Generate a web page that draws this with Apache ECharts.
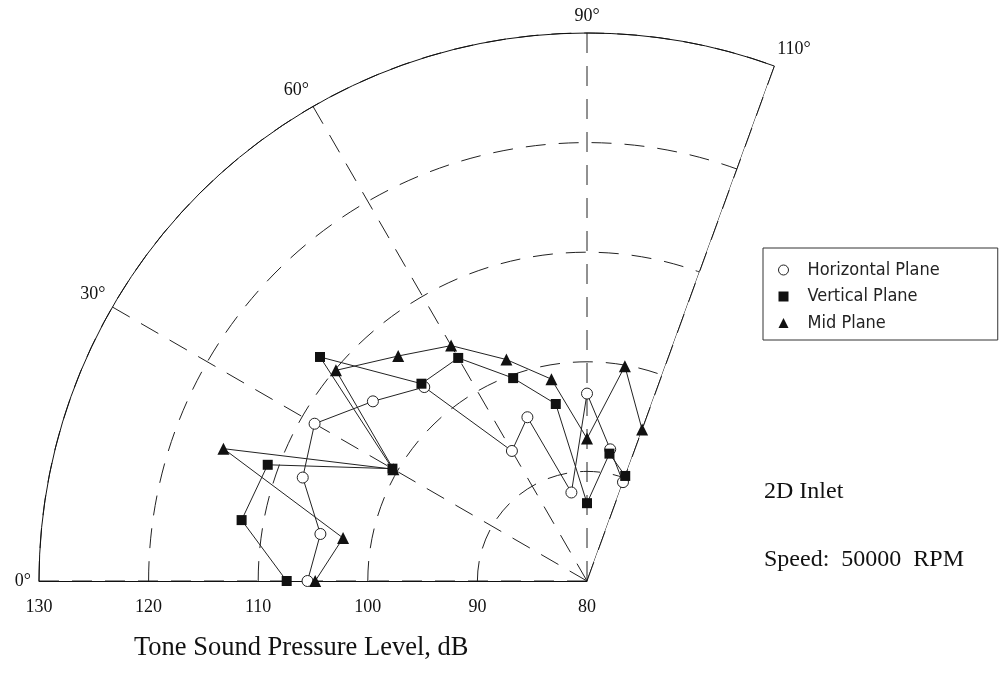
<!DOCTYPE html>
<html>
<head>
<meta charset="utf-8">
<title>Tone Sound Pressure Level – 2D Inlet</title>
<script src="https://cdn.jsdelivr.net/npm/echarts@6/dist/echarts.min.js"></script>
<style>
  html, body { margin: 0; padding: 0; background: #ffffff; }
  #chart { width: 1002px; height: 675px; }
</style>
</head>
<body>
<div id="chart"></div>
<script>
// Directivity angles (degrees) and tone SPL (dB) per measurement plane
const angles = [0, 10, 20, 30, 40, 50, 60, 70, 80, 90, 100, 110];
const horizontalPlane = [105.5, 104.7, 107.6, 108.7, 105.5, 103.1, 93.7, 95.9, 88.2, 97.1, 92.2, 89.6];
const verticalPlane   = [107.4, 112.0, 111.0, 100.5, 111.8, 103.5, 103.5, 99.7, 96.4, 87.1, 91.8, 90.2];
const midPlane        = [104.8, 102.6, 115.3, 100.4, 109.9, 106.8, 104.8, 101.5, 98.7, 93.0, 99.9, 94.7];

// Axis ranges
const splMin = 80, splMax = 130, splStep = 10;
const angleMin = 0, angleMax = 110, angleStep = 30;

const seriesNames = ['Horizontal Plane', 'Vertical Plane', 'Mid Plane'];

const INK = '#111111';
const SERIF = "'Liberation Serif', 'DejaVu Serif', serif";
const SANS = "'DejaVu Sans Condensed', 'DejaVu Sans', 'Liberation Sans', sans-serif";

// polar data items are [radius, angle]
function toPolar(values) {
  return values.map((v, i) => [v, angles[i]]);
}

const chart = echarts.init(document.getElementById('chart'), null, { renderer: 'canvas' });

const lineStyle = { color: '#222', width: 1 };
const gridDash = { color: '#222', width: 1, type: [20, 13] };
const hollowMarker = { color: '#ffffff', borderColor: '#222', borderWidth: 1 };

chart.setOption({
  backgroundColor: '#ffffff',
  animation: false,
  title: [
    {
      text: 'Tone Sound Pressure Level, dB',
      left: 134, top: 635, padding: 0,
      textStyle: { fontFamily: SERIF, fontSize: 26.5, fontWeight: 'normal', color: INK }
    },
    {
      text: '2D Inlet',
      left: 764, top: 480, padding: 0,
      textStyle: { fontFamily: SERIF, fontSize: 24, fontWeight: 'normal', color: INK }
    },
    {
      text: 'Speed:  50000  RPM',
      left: 764, top: 548, padding: 0,
      textStyle: { fontFamily: SERIF, fontSize: 24, fontWeight: 'normal', color: INK }
    }
  ],
  legend: {
    data: [
      { name: seriesNames[0], icon: 'circle', itemStyle: hollowMarker },
      { name: seriesNames[1], icon: 'rect' },
      { name: seriesNames[2], icon: 'triangle' }
    ],
    orient: 'vertical',
    left: 763, top: 248,
    padding: [13, 58, 8, 15],
    itemWidth: 10, itemHeight: 10, itemGap: 8.5,
    borderColor: '#333', borderWidth: 1,
    backgroundColor: '#ffffff',
    selectedMode: false,
    textStyle: { fontFamily: SANS, fontSize: 18, lineHeight: 16, color: '#222', padding: [0, 0, 0, 14] }
  },
  polar: {
    center: [587, 581],
    radius: 548
  },
  angleAxis: {
    type: 'value',
    min: angleMin, max: angleMax, interval: angleStep,
    startAngle: 180, endAngle: 70, clockwise: true,
    axisLine: { show: true, lineStyle: { color: INK, width: 1 } },
    axisTick: { show: false },
    splitLine: { show: true, lineStyle: gridDash },
    axisLabel: {
      margin: 8,
      formatter: '{value}°',
      fontFamily: SERIF, fontSize: 18, color: INK
    }
  },
  radiusAxis: {
    type: 'value',
    min: splMin, max: splMax, interval: splStep,
    axisLine: { show: true, lineStyle: { color: INK, width: 1 } },
    axisTick: { show: false },
    splitLine: { show: true, lineStyle: gridDash },
    axisLabel: {
      margin: 17,
      fontFamily: SERIF, fontSize: 18, color: INK
    }
  },
  series: [
    {
      // closing edge of the sector at the last angle
      name: 'sector edge',
      type: 'line',
      coordinateSystem: 'polar',
      data: [[splMin, angleMax], [splMax, angleMax]],
      symbol: 'none',
      silent: true,
      lineStyle: { color: INK, width: 1 },
      z: 1
    },
    {
      name: seriesNames[0],
      type: 'line',
      coordinateSystem: 'polar',
      data: toPolar(horizontalPlane),
      symbol: 'circle', symbolSize: 11,
      itemStyle: hollowMarker,
      lineStyle: lineStyle,
      z: 3
    },
    {
      name: seriesNames[1],
      type: 'line',
      coordinateSystem: 'polar',
      data: toPolar(verticalPlane),
      symbol: 'rect', symbolSize: 10,
      itemStyle: { color: '#111' },
      lineStyle: lineStyle,
      z: 4
    },
    {
      name: seriesNames[2],
      type: 'line',
      coordinateSystem: 'polar',
      data: toPolar(midPlane),
      symbol: 'triangle', symbolSize: 12,
      itemStyle: { color: '#111' },
      lineStyle: lineStyle,
      z: 4
    }
  ]
});
</script>
</body>
</html>
